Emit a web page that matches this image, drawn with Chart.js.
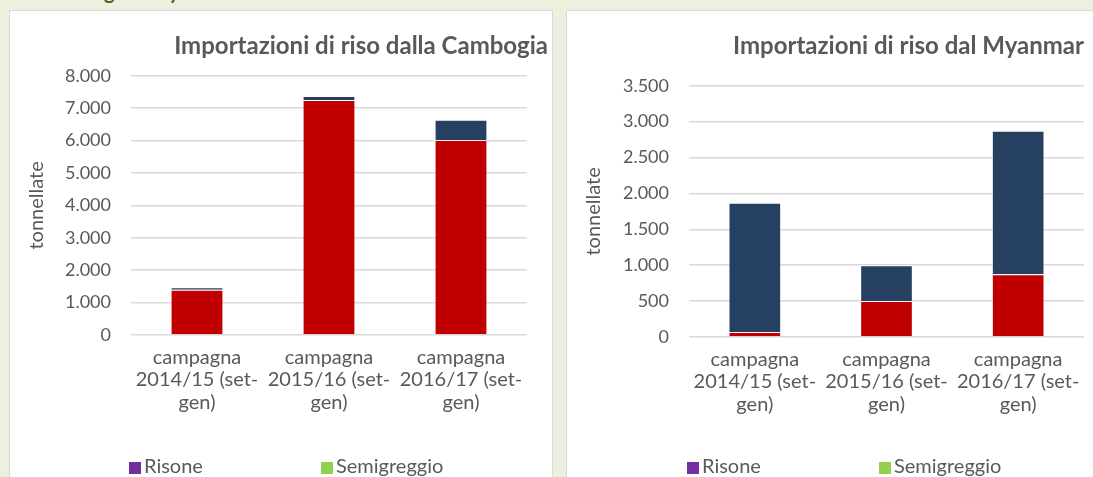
<!DOCTYPE html>
<html>
<head>
<meta charset="utf-8">
<script src="https://cdn.jsdelivr.net/npm/chart.js@4.4.1/dist/chart.umd.min.js"></script>
<style>
  html, body { margin: 0; padding: 0; }
  body { width: 1093px; height: 477px; background: #ebf1de; position: relative; overflow: hidden; font-family: Lato, sans-serif; }
  .heading { position: absolute; left: 41px; top: -19px; font: bold 20px/20px Lato, sans-serif; color: #4f6228; white-space: nowrap; }
  .panel { position: absolute; top: 10px; height: 490px; background: #fff; border: 1px solid #d9d9d9; box-sizing: border-box; }
  canvas { position: absolute; top: 10px; }
  .legend { position: absolute; top: 453px; font: 20px Lato, sans-serif; color: #595959; white-space: nowrap; }
  .legend span.item { position: absolute; top: 0; }
  .legend i { display: inline-block; width: 12px; height: 12px; margin-right: 3px; vertical-align: -1px; }
</style>
</head>
<body>
<div class="heading">Cambogia e Myanmar</div>
<div class="panel" style="left:9px; width:544px;"></div>
<div class="panel" style="left:566px; width:540px;"></div>
<canvas id="cambogia" width="543" height="467" style="left:9px"></canvas>
<canvas id="myanmar" width="527" height="467" style="left:566px"></canvas>
<div class="legend" id="legendCambogia" style="left:129px"></div>
<div class="legend" id="legendMyanmar" style="left:687px"></div>
<script>
const categories = [
  ['campagna', '2014/15 (set-', 'gen)'],
  ['campagna', '2015/16 (set-', 'gen)'],
  ['campagna', '2016/17 (set-', 'gen)']
];
const seriesNames = ['Risone', 'Semigreggio', 'Lavorato', 'Rotture'];
const seriesColors = ['#7030a0', '#92d050', '#c00000', '#264061'];

const cambogiaRisone = [0, 0, 0];
const cambogiaSemigreggio = [0, 0, 0];
const cambogiaLavorato = [1400, 7250, 6020];
const cambogiaRotture = [70, 130, 620];

const myanmarRisone = [0, 0, 0];
const myanmarSemigreggio = [0, 0, 0];
const myanmarLavorato = [70, 500, 875];
const myanmarRotture = [1800, 500, 2000];

const grey = '#595959';
const tickFont = { family: 'Lato', size: 18 };
const labelFont = { family: 'Lato', size: 20, lineHeight: 1.125 };

const formatThousands = (v) => String(v).replace(/\B(?=(\d{3})+(?!\d))/g, '.');

const makeDatasets = (values) => values.map((data, i) => ({
  label: seriesNames[i],
  data: data,
  backgroundColor: seriesColors[i],
  borderColor: 'rgba(255,255,255,0.5)',
  borderWidth: 1,
  categoryPercentage: 0.8,
  barPercentage: 0.5
}));

const makeChart = (id, title, values, yMax, yStep, box) => {
  const scales = {
    x: {
      stacked: true,
      grid: { display: false, drawTicks: false },
      border: { display: false },
      ticks: { font: labelFont, color: grey, maxRotation: 0, padding: 11 },
      afterFit: (s) => { s.height = 100; }
    },
    y: {
      stacked: true,
      min: 0,
      max: yMax,
      grid: { color: '#d9d9d9', lineWidth: 1.5, drawTicks: false },
      border: { display: false },
      ticks: { stepSize: yStep, font: tickFont, color: grey, padding: 20, callback: formatThousands },
      title: { display: true, text: 'tonnellate', font: { family: 'Lato', size: 20 }, color: grey, padding: { top: 16 } },
      afterFit: (s) => { s.width = box.left; }
    }
  };
  if (box.extraRight) {
    scales.gap = {
      position: 'right',
      display: true,
      grid: { display: false },
      border: { display: false },
      ticks: { display: false },
      afterFit: (s) => { s.width = box.extraRight; }
    };
  }
  return new Chart(document.getElementById(id), {
    type: 'bar',
    data: { labels: categories, datasets: makeDatasets(values) },
    options: {
      responsive: false,
      animation: false,
      layout: { padding: { left: 0, right: box.right, top: 0, bottom: box.bottom } },
      plugins: {
        title: {
          display: true,
          text: title,
          align: 'end',
          color: grey,
          font: { family: 'Lato', size: 24, weight: 'bold', lineHeight: 1.2 },
          padding: { top: 22, bottom: box.titleBottom }
        },
        legend: { display: false },
        tooltip: { enabled: false }
      },
      scales: scales
    }
  });
};

const buildLegend = (chart, elId) => {
  const el = document.getElementById(elId);
  // only the first row of the legend is visible in the panel
  chart.data.datasets.slice(0, 2).forEach((ds, i) => {
    const item = document.createElement('span');
    item.className = 'item';
    item.style.left = (i * 192) + 'px';
    item.innerHTML = '<i style="background:' + ds.backgroundColor + '"></i>' + ds.label;
    el.appendChild(item);
  });
};

const chartCambogia = makeChart('cambogia', 'Importazioni di riso dalla Cambogia',
  [cambogiaRisone, cambogiaSemigreggio, cambogiaLavorato, cambogiaRotture],
  8000, 1000, { left: 122, right: 4, extraRight: 21, bottom: 42, titleBottom: 15 });

const chartMyanmar = makeChart('myanmar', 'Importazioni di riso dal Myanmar',
  [myanmarRisone, myanmarSemigreggio, myanmarLavorato, myanmarRotture],
  3500, 500, { left: 123, right: 9, bottom: 40, titleBottom: 25 });

buildLegend(chartCambogia, 'legendCambogia');
buildLegend(chartMyanmar, 'legendMyanmar');
</script>
</body>
</html>
